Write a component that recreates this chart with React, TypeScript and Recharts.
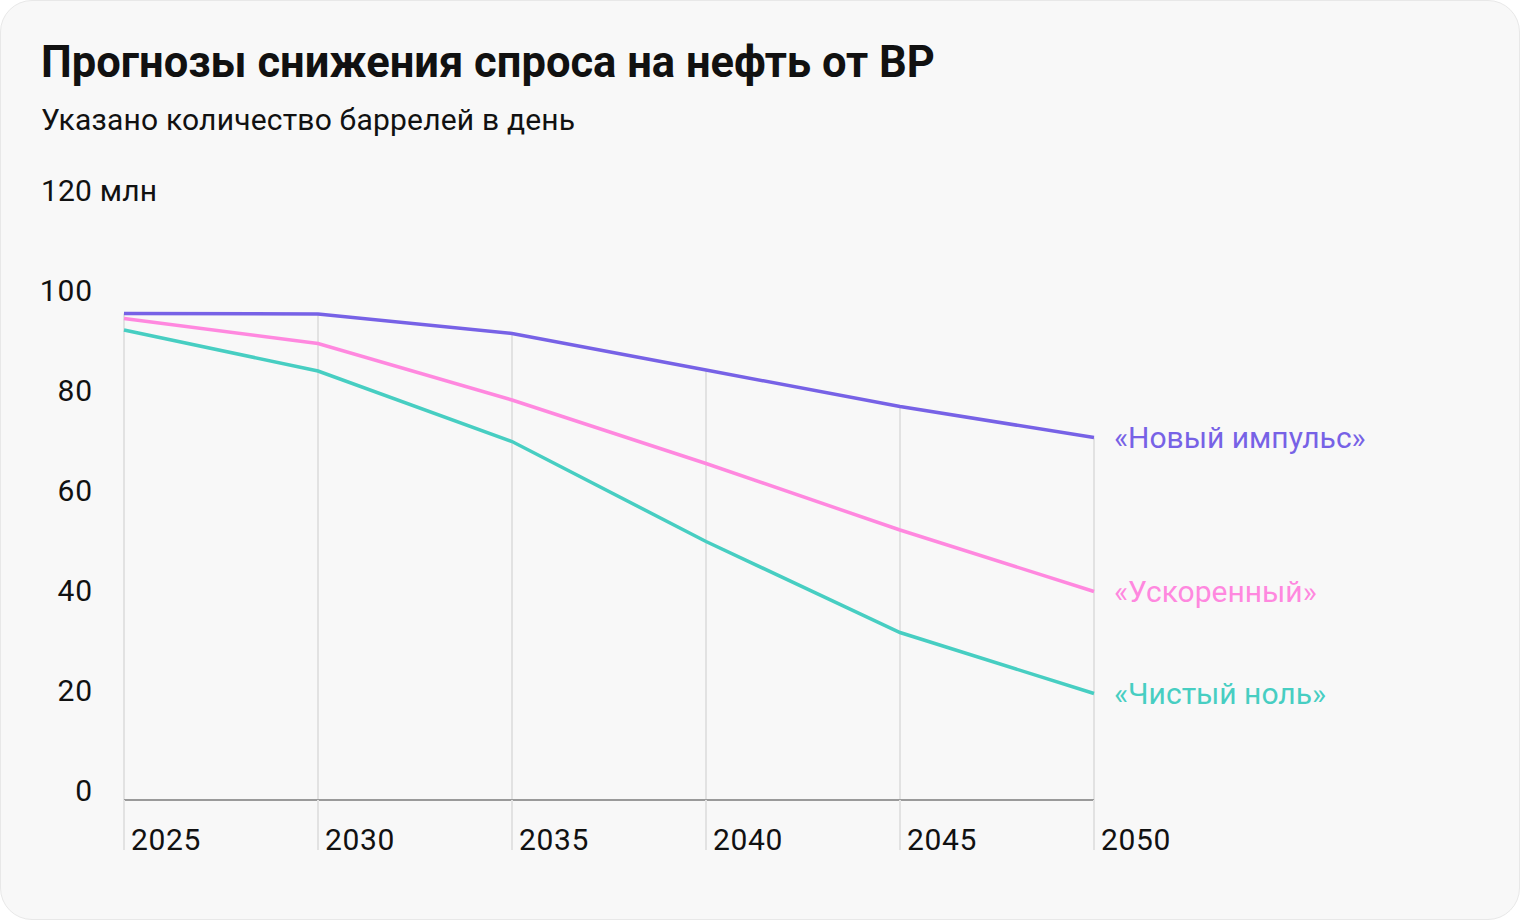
import React from "react";
import { LineChart, Line, XAxis, YAxis, ReferenceLine, LabelList } from "recharts";

const years = [2025, 2030, 2035, 2040, 2045, 2050];
const newMomentum = [97.3, 97.2, 93.3, 86, 78.7, 72.5];
const accelerated = [96.3, 91.3, 80, 67.3, 54, 41.7];
const netZero = [94, 85.8, 71.7, 51.7, 33.5, 21.3];
const yTicks = [0, 20, 40, 60, 80, 100, 120];

const series = [
  { key: "momentum", name: "«Новый импульс»", color: "#7762E6", values: newMomentum },
  { key: "accel", name: "«Ускоренный»", color: "#FF88DF", values: accelerated },
  { key: "zero", name: "«Чистый ноль»", color: "#47CEC2", values: netZero },
];

const data = years.map((year, i) => ({
  year,
  momentum: newMomentum[i],
  accel: accelerated[i],
  zero: netZero[i],
}));

const FONT = "Roboto, 'Noto Sans', sans-serif";

const YTick = (props: any) => {
  const { x, y, payload } = props;
  if (payload.value === 120) {
    return (
      <text x={x - 52} y={y - 10} textAnchor="start" dominantBaseline="central" fontSize={30} letterSpacing={0.2} fill="#111" fontFamily={FONT}>
        120 млн
      </text>
    );
  }
  return (
    <text x={x} y={y - 10} textAnchor="end" dominantBaseline="central" fontSize={30} letterSpacing={0.9} fill="#111" fontFamily={FONT}>
      {payload.value}
    </text>
  );
};

const XTick = (props: any) => {
  const { x, y, payload } = props;
  return (
    <text x={x + 7} y={y - 11} textAnchor="start" dominantBaseline="central" fontSize={30} letterSpacing={0.6} fill="#111" fontFamily={FONT}>
      {payload.value}
    </text>
  );
};

const endLabel = (name: string, color: string) => (props: any) => {
  const { x, y, index } = props;
  if (index !== years.length - 1) return null;
  return (
    <text x={x + 20} y={y} textAnchor="start" dominantBaseline="central" fontSize={30} fill={color} fontFamily={FONT}>
      {name}
    </text>
  );
};

export default function App() {
  return (
    <div style={{ position: "absolute", left: 0, top: 0, width: 1520, height: 920, fontFamily: FONT }}>
      <div
        style={{
          position: "absolute",
          left: 0,
          top: 0,
          width: 1518,
          height: 918,
          background: "#f8f8f8",
          border: "1px solid #e8e8e8",
          borderRadius: 32,
        }}
      />
      <div style={{ position: "absolute", left: 41, top: 38, fontSize: 43.5, fontWeight: 700, color: "#111", lineHeight: "50px" }}>
        Прогнозы снижения спроса на нефть от BP
      </div>
      <div style={{ position: "absolute", left: 41, top: 102, fontSize: 30, letterSpacing: 0.2, color: "#111", lineHeight: "36px" }}>
        Указано количество баррелей в день
      </div>
      <div style={{ position: "absolute", left: 0, top: 0 }}>
        <LineChart width={1520} height={920} data={data} margin={{ top: 200, right: 426, bottom: 60, left: 0 }}>
          <XAxis
            dataKey="year"
            type="number"
            domain={[2025, 2050]}
            ticks={years}
            height={60}
            axisLine={{ stroke: "#9a9a9a", strokeWidth: 2 }}
            tickLine={{ stroke: "#e2e2e2", strokeWidth: 2 }}
            tickSize={50}
            tickMargin={0}
            tick={<XTick />}
            interval={0}
          />
          <YAxis
            type="number"
            domain={[0, 120]}
            ticks={yTicks}
            width={124}
            axisLine={false}
            tickLine={false}
            tickSize={0}
            tickMargin={31}
            tick={<YTick />}
            interval={0}
          />
          {years.map((yr, i) => (
            <ReferenceLine
              key={yr}
              segment={[
                { x: yr, y: newMomentum[i] },
                { x: yr, y: 0 },
              ]}
              stroke="#e2e2e2"
              strokeWidth={2}
              ifOverflow="visible"
            />
          ))}
          {series.map((s) => (
            <Line
              key={s.key}
              type="linear"
              dataKey={s.key}
              stroke={s.color}
              strokeWidth={3.5}
              dot={false}
              activeDot={false}
              isAnimationActive={false}
            >
              <LabelList dataKey={s.key} content={endLabel(s.name, s.color)} />
            </Line>
          ))}
        </LineChart>
      </div>
    </div>
  );
}
